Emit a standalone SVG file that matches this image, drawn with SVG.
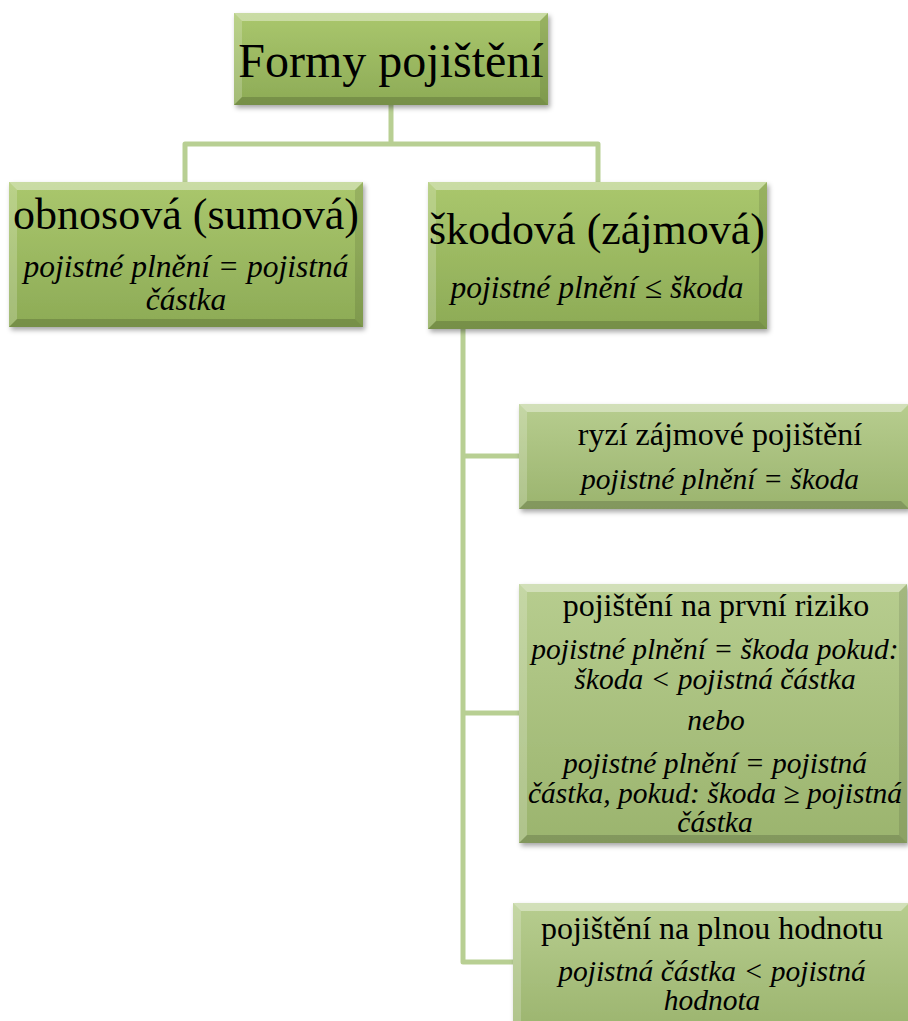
<svg xmlns="http://www.w3.org/2000/svg" width="908" height="1021" viewBox="0 0 908 1021">
<defs>
<linearGradient id="gMain" x1="0" y1="0" x2="0" y2="1">
<stop offset="0" stop-color="#aac76d"/>
<stop offset="1" stop-color="#8dab56"/>
</linearGradient>
<linearGradient id="gSub" x1="0" y1="0" x2="0" y2="1">
<stop offset="0" stop-color="#b7cd8f"/>
<stop offset="1" stop-color="#9bb46e"/>
</linearGradient>
<filter id="sh" x="-10%" y="-10%" width="120%" height="130%">
<feDropShadow dx="2" dy="3" stdDeviation="2.5" flood-color="#000" flood-opacity="0.35"/>
</filter>
</defs>
<style>
.main{fill:url(#gMain);filter:url(#sh)}
.sub{fill:url(#gSub);filter:url(#sh)}
.bt{fill:#fff;opacity:.38}
.bl{fill:#fff;opacity:.2}
.bb{fill:#000;opacity:.16}
.br{fill:#000;opacity:.1}
.conn{fill:none;stroke:#b8cf93;stroke-width:5;stroke-linejoin:round;stroke-linecap:butt}
text{font-family:"Liberation Serif","Times New Roman",serif;fill:#000;text-anchor:middle}
.t48{font-size:48px}
.t44{font-size:44px}
.t32{font-size:32px}
.i32{font-size:31.5px;font-style:italic}
.i30{font-size:29.5px;font-style:italic}
</style>
<rect width="908" height="1021" fill="#fff"/>
<g id="connectors">
<path class="conn" d="M391,105 V144"/>
<path class="conn" d="M185,182 V144 H598 V182"/>
<path class="conn" d="M463,329 V962 H513"/>
<path class="conn" d="M463,456 H519"/>
<path class="conn" d="M463,713 H519"/>
</g>
<g id="node-formy">
<rect class="main" x="234" y="13" width="314" height="92"/>
<polygon class="bt" points="234,13 548,13 540,21 242,21"/>
<polygon class="bl" points="234,13 242,21 242,97 234,105"/>
<polygon class="bb" points="234,105 242,97 540,97 548,105"/>
<polygon class="br" points="548,13 548,105 540,97 540,21"/>
<text class="t48" x="391" y="77">Formy pojištění</text>
</g>
<g id="node-obnosova">
<rect class="main" x="9" y="182" width="354" height="145"/>
<polygon class="bt" points="9,182 363,182 355,190 17,190"/>
<polygon class="bl" points="9,182 17,190 17,319 9,327"/>
<polygon class="bb" points="9,327 17,319 355,319 363,327"/>
<polygon class="br" points="363,182 363,327 355,319 355,190"/>
<text class="t44" x="186" y="229">obnosová (sumová)</text>
<text class="i32" x="186" y="277">pojistné plnění = pojistná</text>
<text class="i32" x="186" y="310">částka</text>
</g>
<g id="node-skodova">
<rect class="main" x="428" y="182" width="339" height="147"/>
<polygon class="bt" points="428,182 767,182 759,190 436,190"/>
<polygon class="bl" points="428,182 436,190 436,321 428,329"/>
<polygon class="bb" points="428,329 436,321 759,321 767,329"/>
<polygon class="br" points="767,182 767,329 759,321 759,190"/>
<text class="t44" x="597" y="244">škodová (zájmová)</text>
<text class="i32" x="597" y="298">pojistné plnění ≤ škoda</text>
</g>
<g id="node-ryzi">
<rect class="sub" x="519" y="404" width="390" height="105"/>
<polygon class="bt" points="519,404 909,404 901,412 527,412"/>
<polygon class="bl" points="519,404 527,412 527,501 519,509"/>
<polygon class="bb" points="519,509 527,501 901,501 909,509"/>
<text class="t32" x="720" y="445">ryzí zájmové pojištění</text>
<text class="i30" x="720" y="489">pojistné plnění = škoda</text>
</g>
<g id="node-prvni-riziko">
<rect class="sub" x="519" y="584" width="388" height="259"/>
<polygon class="bt" points="519,584 907,584 899,592 527,592"/>
<polygon class="bl" points="519,584 527,592 527,835 519,843"/>
<polygon class="bb" points="519,843 527,835 899,835 907,843"/>
<polygon class="br" points="907,584 907,843 899,835 899,592"/>
<text class="t32" x="716" y="616">pojištění na první riziko</text>
<text class="i30" x="715" y="659">pojistné plnění = škoda pokud:</text>
<text class="i30" x="715" y="689">škoda &lt; pojistná částka</text>
<text class="i30" x="716" y="730">nebo</text>
<text class="i30" x="715" y="773">pojistné plnění = pojistná</text>
<text class="i30" x="715" y="803">částka, pokud: škoda ≥ pojistná</text>
<text class="i30" x="715" y="832">částka</text>
</g>
<g id="node-plna-hodnota">
<rect class="sub" x="513" y="903" width="396" height="130"/>
<polygon class="bt" points="513,903 909,903 901,911 521,911"/>
<polygon class="bl" points="513,903 521,911 521,1033 513,1033"/>
<text class="t32" x="712" y="939">pojištění na plnou hodnotu</text>
<text class="i30" x="712" y="981">pojistná částka &lt; pojistná</text>
<text class="i30" x="712" y="1010">hodnota</text>
</g>
</svg>
